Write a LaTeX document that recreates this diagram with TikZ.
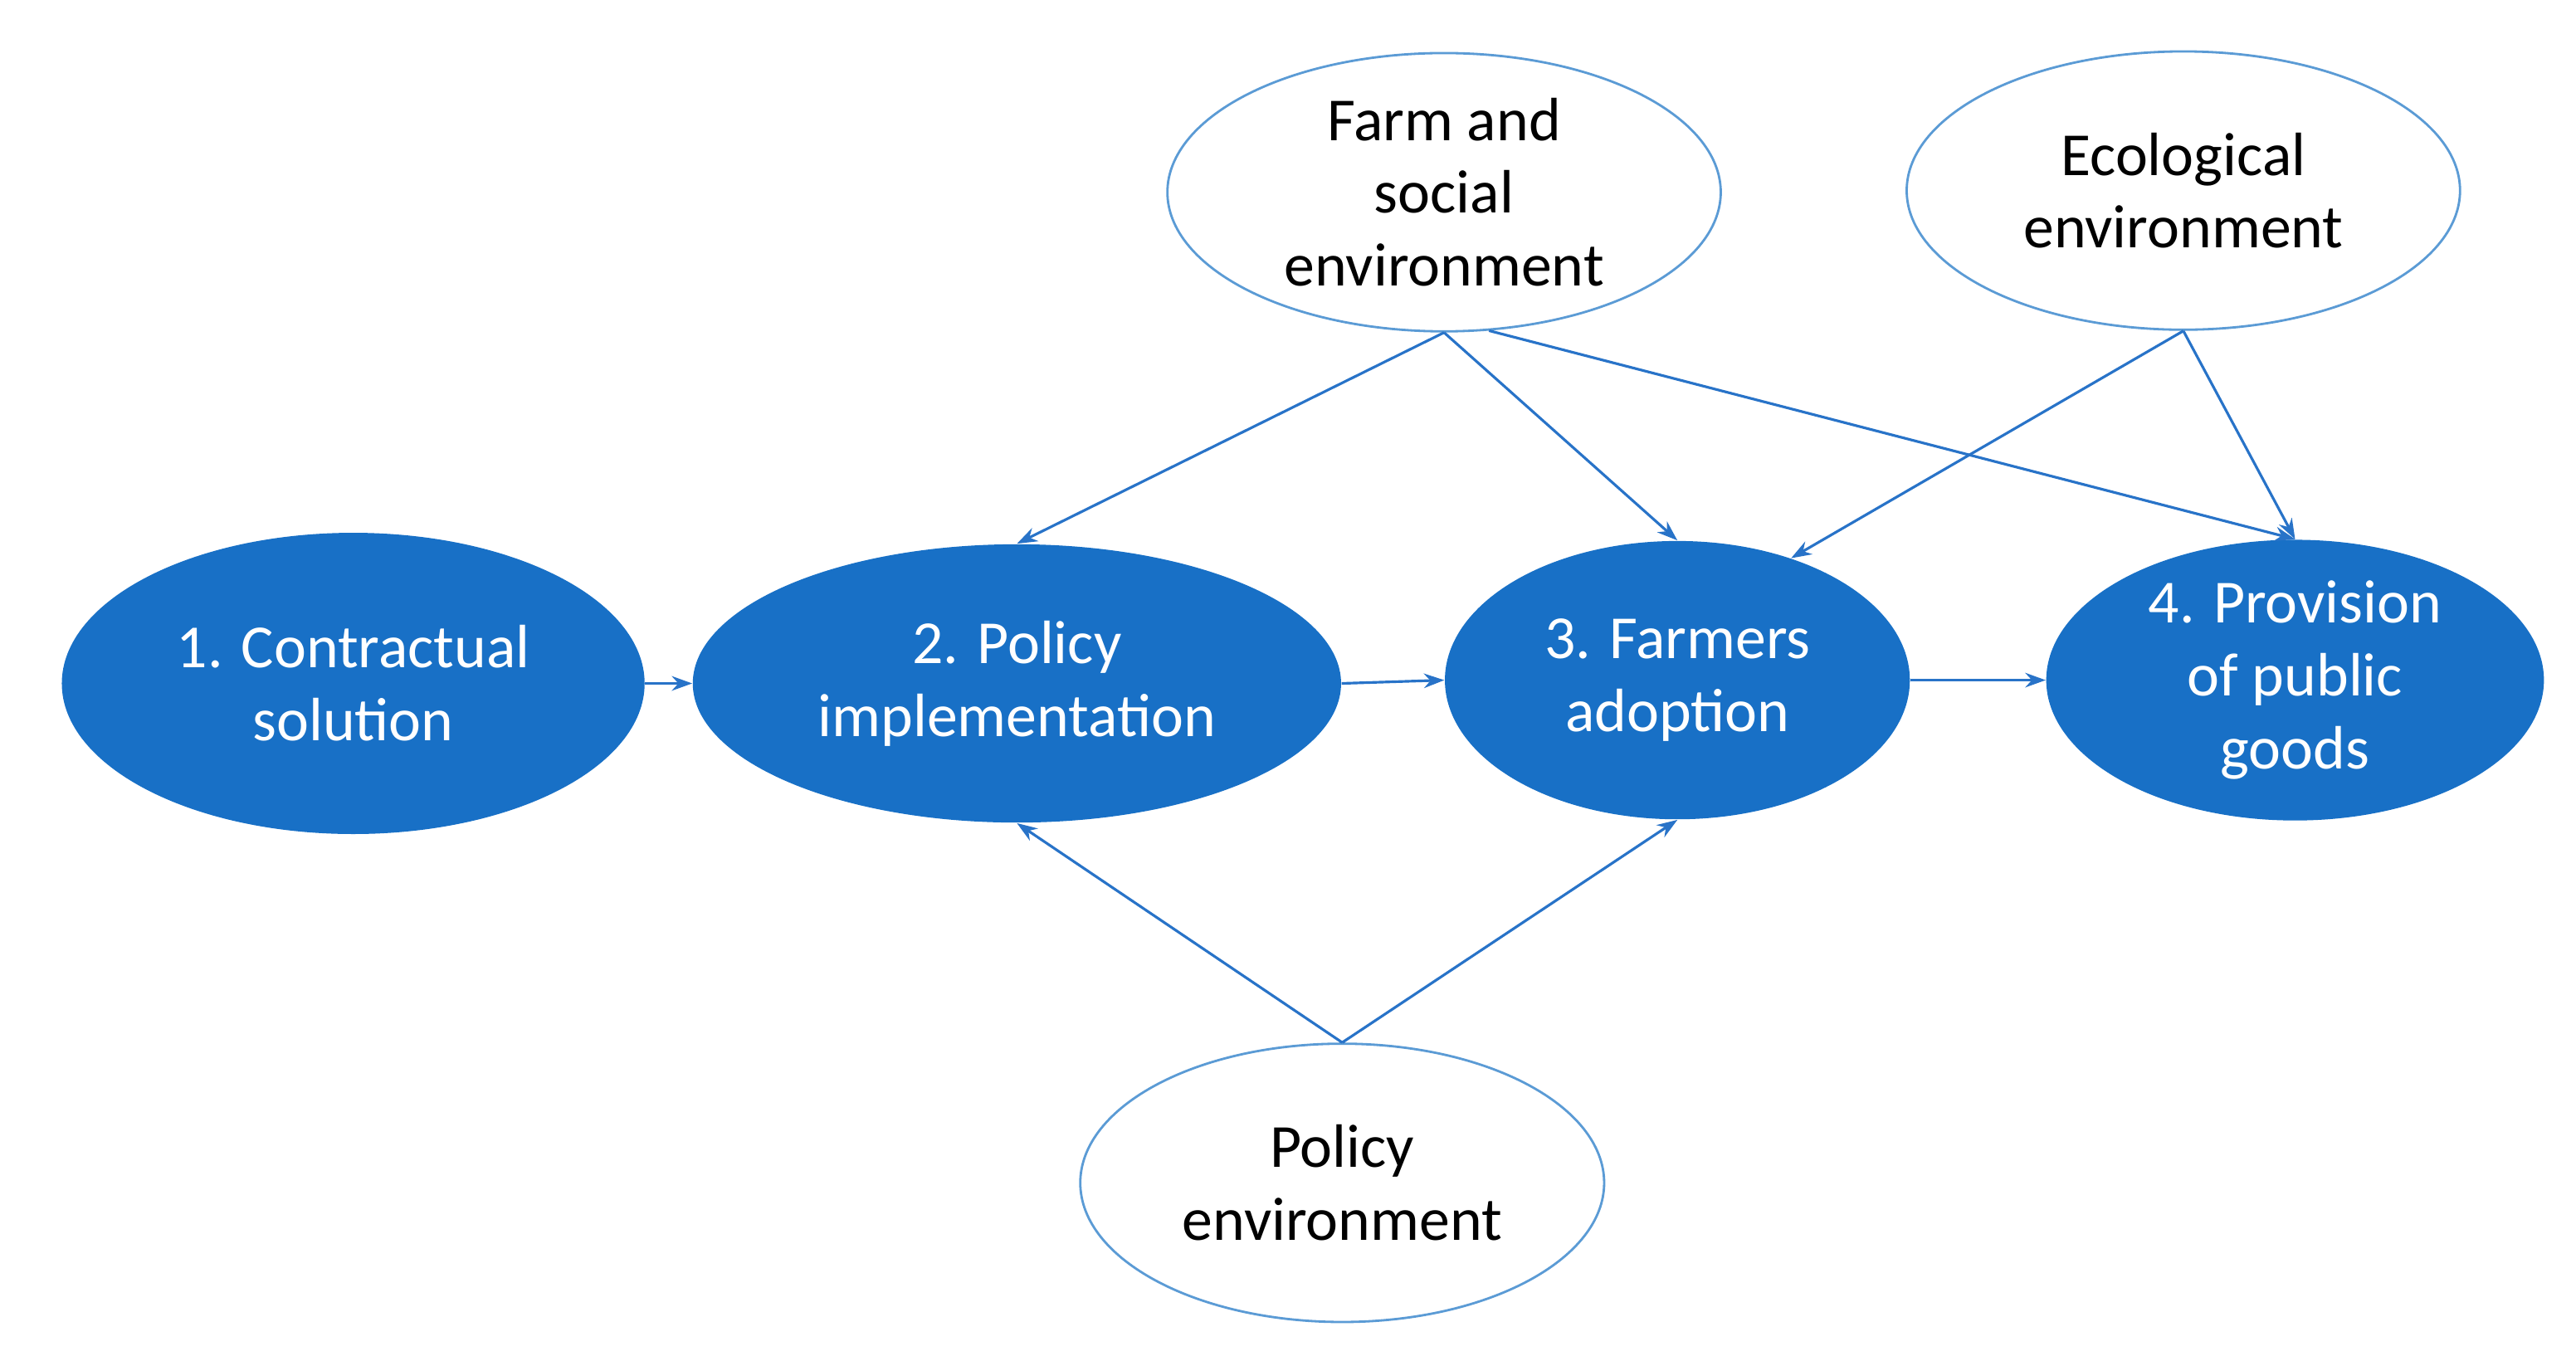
\documentclass[tikz,border=0pt]{standalone}
\usepackage{fontspec}
\setmainfont{Carlito}
\usetikzlibrary{shapes.geometric,arrows.meta}
\definecolor{fillblue}{RGB}{24,112,198}
\definecolor{lineblue}{RGB}{91,155,213}
\definecolor{arrblue}{RGB}{40,115,200}
\begin{document}
\begin{tikzpicture}[x=0.19796mm,y=-0.19796mm,
  base/.style={ellipse,inner sep=0pt,align=center,font=\fontsize{21}{25}\selectfont},
  main/.style={base,fill=fillblue,text=white},
  env/.style={base,draw=lineblue,line width=0.8pt,fill=white,text=black},
  sz/.style 2 args={minimum width=#1*0.5613pt,minimum height=#2*0.5613pt},
  conn/.style={draw=arrblue,line width=0.9pt,-{Stealth[length=7pt,width=5pt]}}]
\useasboundingbox (0,0) rectangle (1568,828);
\node[main,sz={356}{184}] (c1) at (215,416) {1. Contractual\\solution};
\node[main,sz={396}{170}] (c2) at (619,416) {2. Policy\\implementation};
\node[main,sz={284}{170}] (c3) at (1021,414) {3. Farmers\\adoption};
\node[main,sz={304}{170}] (c4) at (1397,414) {4. Provision\\of public\\goods};
\node[env,sz={338}{170}] (farm) at (879,117) {Farm and\\social\\environment};
\node[env,sz={338}{170}] (eco) at (1329,116) {Ecological\\environment};
\node[env,sz={320}{170}] (pol) at (817,720) {Policy\\environment};
\draw[conn] (c1.east) -- (c2.west);
\draw[conn] (c2.east) -- (c3.west);
\draw[conn] (c3.east) -- (c4.west);
\draw[conn] (farm.south) -- (c2.north);
\draw[conn] (farm.south) -- (c3.north);
\draw[conn] (farm.-72) -- (c4.north);
\draw[conn] (eco.south) -- (c3.47);
\draw[conn] (eco.south) -- (c4.north);
\draw[conn] (pol.north) -- (c2.south);
\draw[conn] (pol.north) -- (c3.south);
\end{tikzpicture}
\end{document}
